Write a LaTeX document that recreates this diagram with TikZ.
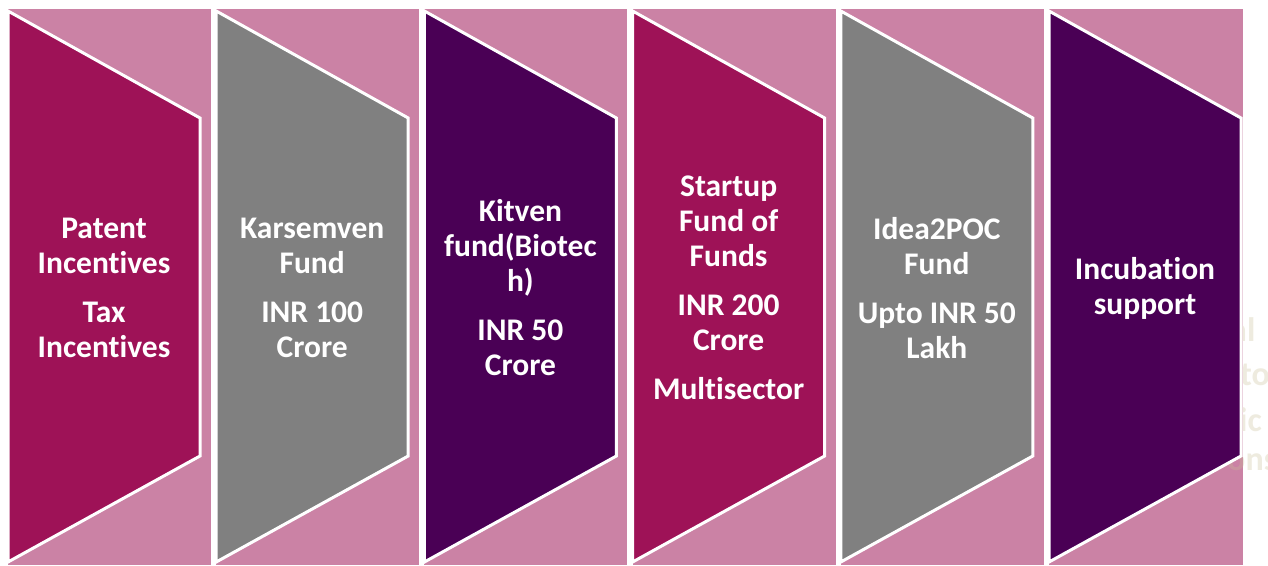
\documentclass[tikz,border=0pt]{standalone}
\usepackage{fontspec}
\setmainfont{Carlito}[Ligatures=NoCommon]
\usetikzlibrary{positioning}
\definecolor{bandpink}{RGB}{203,130,165}
\definecolor{berry}{RGB}{158,18,87}
\definecolor{slate}{RGB}{128,128,128}
\definecolor{plum}{RGB}{74,0,85}
\definecolor{ghost}{RGB}{200,190,150}

\begin{document}
\begin{tikzpicture}[
  x=1pt, y=-1pt,
  every node/.style={font=\bfseries\fontsize{31.5}{35}\selectfont, text=white, align=center},
  band/.style={fill=bandpink},
  chevron/.style={draw=white, line width=3pt, line join=miter},
  ghosttxt/.style={font=\bfseries\fontsize{34}{40}\selectfont, text=ghost, text opacity=0.3, anchor=west, inner sep=0pt}
  ]

\clip (0,0) rectangle (1268,565);
\fill[white] (0,0) rectangle (1268,565);

% pink bands behind the chevrons
\foreach \i in {0,...,4}
  \fill[band] ({8+208.2*\i},9) rectangle ++(203,556);
\fill[band] (1049,9) rectangle (1243,565);

% faded text showing through at the right
\foreach \w/\x/\y [count=\k] in {al/1230/330, to/1240/375, ic/1239/420, ons/1227/462}
  \node[ghosttxt] (ghost\k) at (\x,\y) {\w};

% chevrons
\foreach \i/\col in {0/berry,1/slate,2/plum,3/berry,4/slate,5/plum}
  \filldraw[chevron, fill=\col] ({8+208.2*\i},11) -- ++(192,107) -- ++(0,338) -- ({8+208.2*\i},562) -- cycle;

\node (patent) at (104,288) {Patent\\Incentives\\[14pt]Tax\\Incentives};
\node (karsemven) at (312.2,288) {Karsemven\\Fund\\[14pt]INR 100\\Crore};
\node (kitven) at (520.4,288) {Kitven\\fund(Biotec\\h)\\[14pt]INR 50\\Crore};
\node (startup) at (728.6,288) {Startup\\Fund of\\Funds\\[14pt]INR 200\\Crore\\[14pt]Multisector};
\node (idea) at (936.8,288) {Idea2POC\\Fund\\[14pt]Upto INR 50\\Lakh};
\node (incubation) at (1145,288) {Incubation\\support};

\end{tikzpicture}
\end{document}
